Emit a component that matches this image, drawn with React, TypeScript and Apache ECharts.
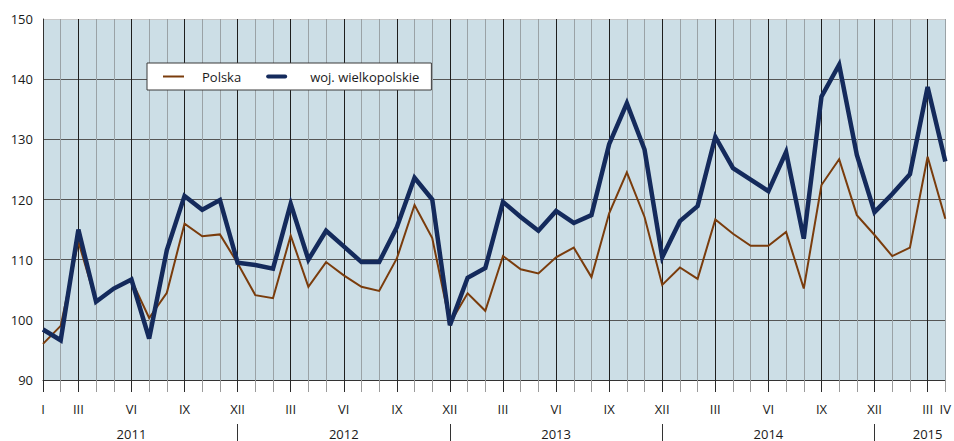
import React, { useEffect, useRef } from "react";
import * as echarts from "echarts";

const monthLabels = [
  "I", "", "III", "", "", "VI", "", "", "IX", "", "", "XII",
  "", "", "III", "", "", "VI", "", "", "IX", "", "", "XII",
  "", "", "III", "", "", "VI", "", "", "IX", "", "", "XII",
  "", "", "III", "", "", "VI", "", "", "IX", "", "", "XII",
  "", "", "III", "IV",
];

const yearLabels = [
  "", "", "", "", "", "2011", "", "", "", "", "", "",
  "", "", "", "", "", "2012", "", "", "", "", "", "",
  "", "", "", "", "", "2013", "", "", "", "", "", "",
  "", "", "", "", "", "2014", "", "", "", "", "", "",
  "", "", "2015", "",
];

const yearSeparators = [11, 23, 35, 47];

const polska = [
  96.0, 99.0, 113.0, 103.0, 105.2, 106.6, 100.3, 104.5, 116.0, 113.9, 114.2, 109.4,
  104.1, 103.6, 114.0, 105.5, 109.6, 107.4, 105.5, 104.8, 110.2, 119.1, 113.6, 99.4,
  104.4, 101.5, 110.6, 108.4, 107.7, 110.4, 112.0, 107.1, 117.7, 124.5, 117.1, 105.8,
  108.7, 106.8, 116.7, 114.3, 112.3, 112.3, 114.6, 105.2, 122.4, 126.7, 117.4, 114.1,
  110.6, 112.0, 127.1, 116.8,
];

const wielkopolskie = [
  98.4, 96.6, 115.0, 103.0, 105.2, 106.7, 96.9, 111.6, 120.6, 118.3, 119.9, 109.5,
  109.1, 108.5, 119.3, 110.0, 114.8, 112.2, 109.6, 109.6, 115.4, 123.6, 120.0, 99.1,
  107.0, 108.6, 119.6, 117.1, 114.8, 118.1, 116.1, 117.4, 129.2, 136.0, 128.3, 110.4,
  116.4, 118.9, 130.4, 125.2, 123.3, 121.4, 127.9, 113.5, 137.1, 142.4, 127.4, 117.9,
  120.9, 124.2, 138.7, 126.3,
];

const seriesNames = ["Polska", "woj. wielkopolskie"];

const FONT = "Open Sans";
const TEXT = "#1a1a1a";
const BROWN = "#7a3c0c";
const NAVY = "#142a5c";

export default function App() {
  const ref = useRef<HTMLDivElement>(null);
  useEffect(() => {
    if (!ref.current) return;
    const chart = echarts.init(ref.current, undefined, { renderer: "svg" });
    const cats = monthLabels.map((_, i) => String(i));
    chart.setOption({
      animation: false,
      backgroundColor: "#ffffff",
      grid: {
        left: 43,
        right: 4,
        top: 19,
        bottom: 61,
        show: true,
        backgroundColor: "#ccdee6",
        borderWidth: 0,
      },
      legend: {
        left: 147,
        top: 63,
        orient: "horizontal",
        backgroundColor: "#ffffff",
        borderColor: "#3a3a3a",
        borderWidth: 1,
        borderRadius: 0,
        padding: [7, 12, 7, 16],
        itemGap: 25,
        itemWidth: 21,
        itemHeight: 10,
        symbolKeepAspect: true,
        textStyle: { fontFamily: FONT, fontSize: 13, color: TEXT },
        data: [
          {
            name: seriesNames[0],
            icon: "path://M0,0h21v2h-21z",
            itemStyle: { color: BROWN },
            textStyle: { padding: [0, 0, 0, 13] },
          },
          {
            name: seriesNames[1],
            icon: "path://M2,0h17a2,2 0 0 1 0,4h-17a2,2 0 0 1 0,-4z",
            itemStyle: { color: NAVY },
            textStyle: { padding: [0, 0, 0, 18] },
          },
        ],
      },
      xAxis: [
        {
          type: "category",
          data: cats,
          boundaryGap: false,
          axisLine: { show: true, lineStyle: { color: "#333", width: 1 } },
          axisTick: { show: true, interval: 0, length: 12, lineStyle: { color: "#9a9a9a" } },
          axisLabel: {
            interval: 0,
            margin: 22,
            fontFamily: FONT,
            fontSize: 13,
            color: TEXT,
            formatter: (_v: string, i: number) => monthLabels[i],
          },
          splitLine: {
            show: true,
            interval: 0,
            lineStyle: { color: ["#9aa2a6", "#9aa2a6", "#1e1e1e"], width: 1 },
          },
        },
        {
          type: "category",
          data: cats,
          boundaryGap: false,
          position: "bottom",
          offset: 0,
          axisLine: { show: false },
          axisTick: {
            show: true,
            interval: (i: number) => i === 0 || i % 3 === 2,
            length: 12,
            lineStyle: { color: "#2a2a2a" },
          },
          axisLabel: { show: false },
          splitLine: { show: false },
        },
        {
          type: "category",
          data: cats,
          boundaryGap: false,
          position: "bottom",
          offset: 44,
          axisLine: { show: false },
          axisTick: {
            show: true,
            interval: (i: number) => yearSeparators.includes(i),
            length: 17,
            lineStyle: { color: "#333" },
          },
          axisLabel: {
            interval: 0,
            margin: 3,
            fontFamily: FONT,
            fontSize: 13,
            color: TEXT,
            formatter: (_v: string, i: number) => yearLabels[i],
          },
          splitLine: { show: false },
        },
      ],
      yAxis: {
        type: "value",
        min: 90,
        max: 150,
        interval: 10,
        axisLine: { show: true, lineStyle: { color: "#333", width: 1 } },
        axisTick: { show: false },
        axisLabel: { margin: 10, fontFamily: FONT, fontSize: 13, color: TEXT },
        splitLine: {
          show: true,
          lineStyle: {
            color: ["#333", "#555", "#555", "#555", "#555", "#555", "#c8c8c8"],
            width: 1,
          },
        },
      },
      series: [
        {
          name: seriesNames[0],
          type: "line",
          data: polska,
          symbol: "none",
          lineStyle: { color: BROWN, width: 2, join: "miter" },
          itemStyle: { color: BROWN },
        },
        {
          name: seriesNames[1],
          type: "line",
          data: wielkopolskie,
          symbol: "none",
          lineStyle: { color: NAVY, width: 4.5, join: "miter" },
          itemStyle: { color: NAVY },
        },
      ],
    });
    return () => chart.dispose();
  }, []);
  return (
    <div
      ref={ref}
      style={{ position: "absolute", left: 0, top: 0, width: 954, height: 441 }}
    />
  );
}
